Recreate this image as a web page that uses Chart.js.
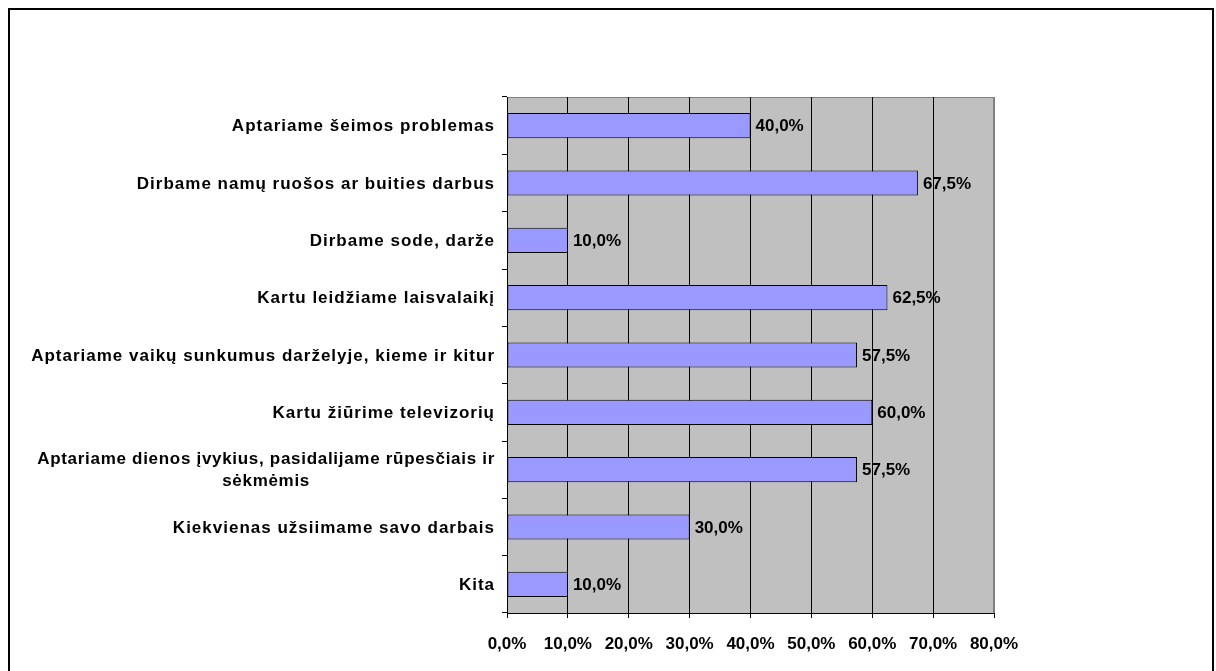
<!DOCTYPE html>
<html>
<head>
<meta charset="utf-8">
<script src="https://cdn.jsdelivr.net/npm/chart.js@4"></script>
<style>
html,body{margin:0;padding:0;background:#fff;}
#wrap{width:1216px;height:671px;position:relative;}
</style>
</head>
<body>
<div id="wrap"><canvas id="c" width="1216" height="671"></canvas></div>
<script>
const categories = [
  ["Aptariame šeimos problemas"],
  ["Dirbame namų ruošos ar buities darbus"],
  ["Dirbame sode, darže"],
  ["Kartu leidžiame laisvalaikį"],
  ["Aptariame vaikų sunkumus darželyje, kieme ir kitur"],
  ["Kartu žiūrime televizorių"],
  ["Aptariame dienos įvykius, pasidalijame rūpesčiais ir", "sėkmėmis"],
  ["Kiekvienas užsiimame savo darbais"],
  ["Kita"]
];
const values = [40.0, 67.5, 10.0, 62.5, 57.5, 60.0, 57.5, 30.0, 10.0];
const xTickLabels = ["0,0%", "10,0%", "20,0%", "30,0%", "40,0%", "50,0%", "60,0%", "70,0%", "80,0%"];

const FONT = '"Liberation Sans", Arial, sans-serif';
const fmt = v => v.toFixed(1).replace('.', ',') + '%';

const decor = {
  id: 'decor',
  beforeDraw(chart) {
    const ctx = chart.ctx, a = chart.chartArea;
    ctx.save();
    ctx.fillStyle = '#fff';
    ctx.fillRect(0, 0, chart.width, chart.height);
    ctx.fillStyle = '#C0C0C0';
    ctx.fillRect(a.left, a.top, a.right - a.left, a.bottom - a.top);
    ctx.strokeStyle = '#808080';
    ctx.lineWidth = 1;
    ctx.strokeRect(a.left + 0.5, a.top + 0.5, a.right - a.left - 1, a.bottom - a.top);
    ctx.restore();
  },
  afterDraw(chart) {
    const ctx = chart.ctx;
    const y = chart.scales.y;
    const meta = chart.getDatasetMeta(0);
    ctx.save();
    // outer frame (bottom edge runs off the picture)
    ctx.strokeStyle = '#000';
    ctx.lineWidth = 2;
    ctx.beginPath();
    ctx.moveTo(9, 675);
    ctx.lineTo(9, 9);
    ctx.lineTo(1213, 9);
    ctx.lineTo(1213, 675);
    ctx.stroke();
    ctx.fillStyle = '#000';
    ctx.textBaseline = 'middle';
    // category labels
    ctx.font = 'bold 17px ' + FONT;
    const rightX = 495, lh = 22;
    categories.forEach((lines, i) => {
      ctx.letterSpacing = lines.length > 1 ? '0.7px' : '1px';
      const cy = y.getPixelForValue(i);
      const widths = lines.map(l => ctx.measureText(l).width);
      const maxW = Math.max(...widths);
      const cx = rightX - maxW / 2;
      const y0 = cy - (lines.length - 1) * lh / 2;
      lines.forEach((l, k) => {
        ctx.textAlign = lines.length > 1 ? 'center' : 'right';
        ctx.fillText(l, lines.length > 1 ? cx : rightX, y0 + k * lh + 1);
      });
    });
    // value labels
    ctx.letterSpacing = '0px';
    ctx.textAlign = 'left';
    meta.data.forEach((bar, i) => {
      ctx.fillText(fmt(values[i]), bar.x + 5, bar.y + 1);
    });
    ctx.restore();
  }
};

new Chart(document.getElementById('c'), {
  type: 'bar',
  data: {
    labels: categories,
    datasets: [{
      data: values,
      backgroundColor: '#9999FF',
      borderColor: '#000',
      borderWidth: 1,
      borderSkipped: false,
      categoryPercentage: 0.44,
      barPercentage: 1.0
    }]
  },
  options: {
    indexAxis: 'y',
    responsive: false,
    animation: false,
    devicePixelRatio: 1,
    layout: { padding: { top: 97, right: 222, bottom: 0, left: 0 } },
    plugins: { legend: { display: false }, tooltip: { enabled: false } },
    scales: {
      x: {
        min: 0, max: 80,
        ticks: {
          stepSize: 10,
          color: '#000',
          font: { family: FONT, size: 17, weight: 'bold' },
          padding: 16,
          maxRotation: 0,
          callback: (v) => xTickLabels[Math.round(v / 10)]
        },
        grid: {
          color: (c) => (c.tick && c.tick.value === 80) ? '#808080' : '#000',
          lineWidth: 1, tickLength: 5, tickColor: '#000'
        },
        border: { color: '#000', width: 1 },
        afterFit(s) { s.height = 671 - 613; }
      },
      y: {
        ticks: { display: false },
        grid: { offset: true, drawOnChartArea: false, tickLength: 5, color: '#000' },
        border: { color: '#000', width: 1 },
        afterFit(s) { s.width = 507; }
      }
    }
  },
  plugins: [decor]
});
</script>
</body>
</html>
